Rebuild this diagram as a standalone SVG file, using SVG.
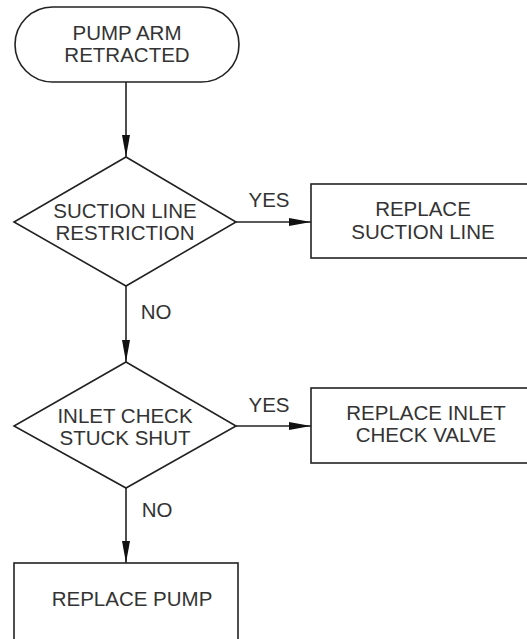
<svg xmlns="http://www.w3.org/2000/svg" width="527" height="639" viewBox="0 0 527 639">
<style>
.s{fill:#fff;stroke:#222;stroke-width:1.6}
.t{font-family:"Liberation Sans",Arial,sans-serif;font-size:20.5px;fill:#333;text-anchor:middle}
.c{stroke:#222;stroke-width:1.6;fill:none}
</style>
<defs>
<marker id="ah" markerWidth="22" markerHeight="10" refX="22" refY="5" orient="auto" markerUnits="userSpaceOnUse">
<path d="M0,1 L22,5 L0,9 Z" fill="#111"/>
</marker>
</defs>
<rect width="527" height="639" fill="#fff"/>
<g id="connectors">
<line class="c" x1="126" y1="82" x2="126" y2="157" marker-end="url(#ah)"/>
<line class="c" x1="236" y1="222" x2="311" y2="222" marker-end="url(#ah)"/>
<line class="c" x1="126" y1="286" x2="126" y2="362" marker-end="url(#ah)"/>
<line class="c" x1="236" y1="426" x2="311" y2="426" marker-end="url(#ah)"/>
<line class="c" x1="126" y1="488" x2="126" y2="563" marker-end="url(#ah)"/>
<text class="t" x="269" y="207">YES</text>
<text class="t" x="156" y="319">NO</text>
<text class="t" x="269" y="412">YES</text>
<text class="t" x="157" y="517">NO</text>
</g>
<g id="start">
<rect class="s" x="15" y="7" width="224" height="75" rx="37.5" ry="37.5"/>
<text class="t" x="127" y="40">PUMP ARM</text>
<text class="t" x="127" y="62">RETRACTED</text>
</g>
<g id="d1">
<polygon class="s" points="126,157 236,222 126,286 14,222"/>
<text class="t" x="125" y="218">SUCTION LINE</text>
<text class="t" x="125" y="240">RESTRICTION</text>
</g>
<g id="b1">
<rect class="s" x="311" y="184" width="230" height="74"/>
<text class="t" x="423" y="216">REPLACE</text>
<text class="t" x="423" y="239">SUCTION LINE</text>
</g>
<g id="d2">
<polygon class="s" points="126,362 236,426 126,488 14,426"/>
<text class="t" x="125" y="423">INLET CHECK</text>
<text class="t" x="125" y="445">STUCK SHUT</text>
</g>
<g id="b2">
<rect class="s" x="311" y="388" width="230" height="75"/>
<text class="t" x="426" y="420">REPLACE INLET</text>
<text class="t" x="426" y="442">CHECK VALVE</text>
</g>
<g id="b3">
<rect class="s" x="14" y="563" width="224" height="90"/>
<text class="t" x="132" y="606">REPLACE PUMP</text>
</g>
</svg>
